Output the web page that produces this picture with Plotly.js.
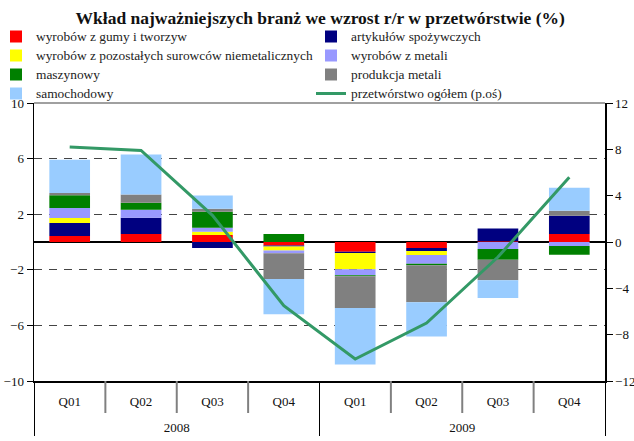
<!DOCTYPE html>
<html>
<head>
<meta charset="utf-8">
<script src="https://cdn.plot.ly/plotly-3.0.1.min.js"></script>
<style>html,body{margin:0;padding:0;background:#fff;}#chart{width:634px;height:441px;}</style>
</head>
<body>
<div id="chart"></div>
<script>
const years    = ['2008','2008','2008','2008','2009','2009','2009','2009'];
const quarters = ['Q01','Q02','Q03','Q04','Q01','Q02','Q03','Q04'];

const gumy        = [0.43, 0.58, 0.51, -0.26, -0.70, -0.43, 0.05, 0.58];
const spozywcze   = [0.94, 1.16, -0.43, -0.07, -0.10, -0.22, 0.92, 1.30];
const niemetal    = [0.36, 0.00, 0.22, -0.29, -1.16, -0.29, 0.00, 0.00];
const zMetali     = [0.72, 0.58, 0.29, -0.19, -0.43, -0.63, -0.51, -0.29];
const maszynowy   = [0.91, 0.51, 1.16, 0.58, -0.07, -0.10, -0.77, -0.63];
const metale      = [0.17, 0.58, 0.22, -1.85, -2.29, -2.67, -1.47, 0.36];
const samochodowy = [2.38, 2.89, 0.94, -2.53, -4.07, -2.45, -1.28, 1.66];
const ogolem      = [8.2, 7.9, 2.3, -5.5, -10.1, -7.0, -1.3, 5.6];

const names = ['wyrobów z gumy i tworzyw','artykułów spożywczych',
  'wyrobów z pozostałych surowców niemetalicznych','wyrobów z metali',
  'maszynowy','produkcja metali','samochodowy','przetwórstwo ogółem (p.oś)'];

// second-level labels pushed one line lower, as in the reference
const yearLabels = years.map(y => ' <br>' + y);
const x = [yearLabels, quarters];
const serif = "'Liberation Serif', 'Times New Roman', serif";
const big = s => '<span style="font-size:13.4px">' + s + '</span>';

const series = [gumy, spozywcze, niemetal, zMetali, maszynowy, metale, samochodowy];
const colors = ['#ff0000','#000080','#ffff00','#9999ff','#008000','#808080','#99ccff'];
const legendOf = ['legend','legend2','legend','legend2','legend','legend2','legend'];

const traces = series.map((s, i) => ({
  type: 'bar', x: x, y: s, name: big(names[i]),
  marker: {color: colors[i], line: {width: 0}},
  legend: legendOf[i], hoverinfo: 'skip'
}));
traces.push({
  type: 'scatter', mode: 'lines', x: x, y: ogolem, yaxis: 'y2',
  name: big(names[7]), legend: 'legend2',
  line: {color: '#339966', width: 3}, hoverinfo: 'skip'
});

const L = 34, R = 29, T = 103, B = 60, W = 634, H = 441;
const pw = W - L - R, ph = H - T - B;

const shapes = [{type:'line', xref:'paper', yref:'paper', x0:0, x1:1, y0:1, y1:1,
                 line:{color:'#a0a0a0', width:2}}];
const n = quarters.length;
for (let i = 1; i < n; i++) {
  if (years[i] !== years[i-1]) continue;
  shapes.push({type:'line', xref:'paper', yref:'paper', x0:i/n, x1:i/n, y0:0, y1:-32/ph,
               line:{color:'#808080', width:2}});
}

const legendFont = {family: serif, size: 12, color: '#222'};
const layout = {
  width: W, height: H,
  margin: {l: L, r: R, t: T, b: B, autoexpand: false},
  paper_bgcolor: '#fff', plot_bgcolor: '#fff',
  barmode: 'relative', bargap: 0.43,
  title: {text: '<b>Wkład najważniejszych branż we wzrost r/r w przetwórstwie (%)</b>',
          font: {family: serif, size: 17.5, color: '#111'},
          x: 0.505, xref: 'container', y: 1 - 18/H, yref: 'container', yanchor: 'middle'},
  xaxis: {type: 'multicategory', showline: true, linecolor: '#000', linewidth: 1.5,
          ticks: '', showdividers: true, dividercolor: '#000', dividerwidth: 1,
          tickfont: {family: serif, size: 13, color: '#111'}, ticklabelstandoff: 8},
  yaxis: {range: [-10, 10], tick0: -10, dtick: 4, showline: true, linecolor: '#000', linewidth: 1.5,
          ticks: 'outside', ticklen: 6, tickcolor: '#000',
          showgrid: true, gridcolor: '#444', gridwidth: 1.3, griddash: '8px,7px',
          zeroline: true, zerolinecolor: '#000', zerolinewidth: 1.5,
          tickfont: {family: serif, size: 13, color: '#111'}},
  yaxis2: {range: [-12, 12], tick0: -12, dtick: 4, overlaying: 'y', side: 'right',
           showline: true, linecolor: '#000', linewidth: 1.5, ticks: 'outside', ticklen: 6,
           tickcolor: '#000', showgrid: false, zeroline: false,
           tickfont: {family: serif, size: 13, color: '#111'}},
  legend: {x: (-4 - L)/pw, xanchor: 'left', y: 1 + (T - 22)/ph, yanchor: 'top',
           bgcolor: 'rgba(0,0,0,0)', font: legendFont, orientation: 'v'},
  legend2: {x: (311 - L)/pw, xanchor: 'left', y: 1 + (T - 22)/ph, yanchor: 'top',
            bgcolor: 'rgba(0,0,0,0)', font: legendFont, orientation: 'v'},
  shapes: shapes,
  showlegend: true
};

Plotly.newPlot('chart', traces, layout, {displayModeBar: false, staticPlot: true});
</script>
</body>
</html>
